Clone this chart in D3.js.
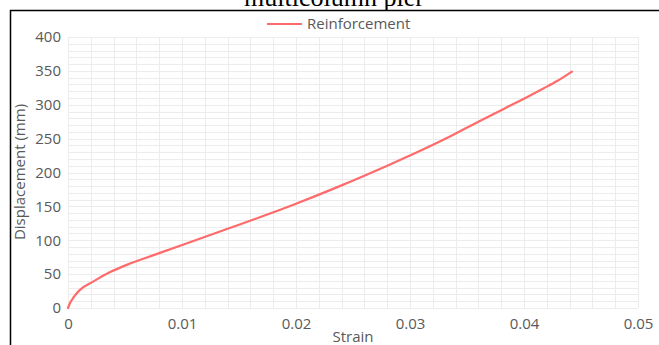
<!DOCTYPE html>
<html>
<head>
<meta charset="utf-8">
<script src="https://cdn.jsdelivr.net/npm/d3@7"></script>
<style>
  body { margin: 0; background: #fff; }
  svg { display: block; }
</style>
</head>
<body>
<div id="chart"></div>
<script>
// data
const strain = [0, 0.0002, 0.0005, 0.001, 0.0022, 0.0037, 0.0052, 0.008, 0.011, 0.014, 0.017,
  0.020, 0.024, 0.028, 0.030, 0.0335, 0.036, 0.038, 0.040, 0.0417, 0.0429, 0.0442];
const displacement = [0, 8, 16, 26, 39, 53, 64, 81, 99, 117, 135,
  154, 181, 210, 225, 253, 275, 292, 309, 324, 335, 349];
const xTicks = [0, 0.01, 0.02, 0.03, 0.04, 0.05];
const xTickLabels = ["0", "0.01", "0.02", "0.03", "0.04", "0.05"];
const yTicks = [0, 50, 100, 150, 200, 250, 300, 350, 400];
const seriesName = "Reinforcement";

const W = 659, H = 345;
const plot = { left: 68, right: 638, top: 37, bottom: 308 };

const svg = d3.select('#chart').append('svg')
  .attr('width', W)
  .attr('height', H);

const x = d3.scaleLinear().domain([0, 0.05]).range([plot.left, plot.right]);
const y = d3.scaleLinear().domain([0, 400]).range([plot.bottom, plot.top]);

// title, mostly cut off above the frame (as in the reference)
svg.append('text')
  .attr('x', 334)
  .attr('y', 6)
  .attr('text-anchor', 'middle')
  .style('font', '26px "Liberation Serif", "Times New Roman", serif')
  .attr('fill', '#000')
  .text('multicolumn pier');

// chart frame
svg.append('rect')
  .attr('x', 10.5).attr('y', 10.5)
  .attr('width', 700).attr('height', 400)
  .attr('fill', 'none')
  .attr('stroke', '#000')
  .attr('stroke-width', 1.5);

// grid (minor every 0.002 / 10)
const grid = svg.append('g').attr('stroke', '#ececec').attr('stroke-width', 1);
grid.selectAll('line.v')
  .data(d3.range(0, 26).map(i => i * 0.002))
  .enter().append('line')
  .attr('x1', d => Math.round(x(d)) + 0.5).attr('x2', d => Math.round(x(d)) + 0.5)
  .attr('y1', plot.top).attr('y2', plot.bottom);
grid.selectAll('line.h')
  .data(d3.range(0, 41).map(i => i * 10))
  .enter().append('line')
  .attr('y1', d => Math.round(y(d)) + 0.5).attr('y2', d => Math.round(y(d)) + 0.5)
  .attr('x1', plot.left).attr('x2', plot.right);

// axes
const tickFont = '15px "Open Sans", sans-serif';
const xAxis = svg.append('g')
  .attr('transform', `translate(0, ${plot.bottom + 7})`)
  .call(d3.axisBottom(x).tickValues(xTicks).tickSize(0)
    .tickFormat((d, i) => xTickLabels[i]));
xAxis.select('.domain').remove();
xAxis.selectAll('text')
  .style('font', tickFont)
  .attr('fill', '#595959');

const yAxis = svg.append('g')
  .attr('transform', `translate(${plot.left - 4}, 0)`)
  .call(d3.axisLeft(y).tickValues(yTicks).tickSize(0));
yAxis.select('.domain').remove();
yAxis.selectAll('text')
  .style('font', tickFont)
  .attr('fill', '#595959');

// axis titles
svg.append('text')
  .attr('x', 353).attr('y', 342)
  .attr('text-anchor', 'middle')
  .style('font', '15px "Open Sans", sans-serif')
  .attr('fill', '#595959')
  .text('Strain');

svg.append('text')
  .attr('transform', 'translate(25, 172) rotate(-90)')
  .attr('text-anchor', 'middle')
  .style('font', '15px "Open Sans", sans-serif')
  .attr('fill', '#595959')
  .text('Displacement (mm)');

// series
const points = strain.map((s, i) => [s, displacement[i]]);
const line = d3.line()
  .x(d => x(d[0]))
  .y(d => y(d[1]))
  .curve(d3.curveMonotoneX);

svg.append('path')
  .datum(points)
  .attr('d', line)
  .attr('fill', 'none')
  .attr('stroke', '#ff6b6b')
  .attr('stroke-width', 2.2)
  .attr('stroke-linecap', 'round');

// legend
const legend = svg.append('g');
legend.append('line')
  .attr('x1', 267).attr('x2', 302)
  .attr('y1', 24).attr('y2', 24)
  .attr('stroke', '#ff6b6b')
  .attr('stroke-width', 2.2);
legend.append('text')
  .attr('x', 307).attr('y', 29)
  .style('font', '15px "Open Sans", sans-serif')
  .attr('fill', '#595959')
  .text(seriesName);
</script>
</body>
</html>
